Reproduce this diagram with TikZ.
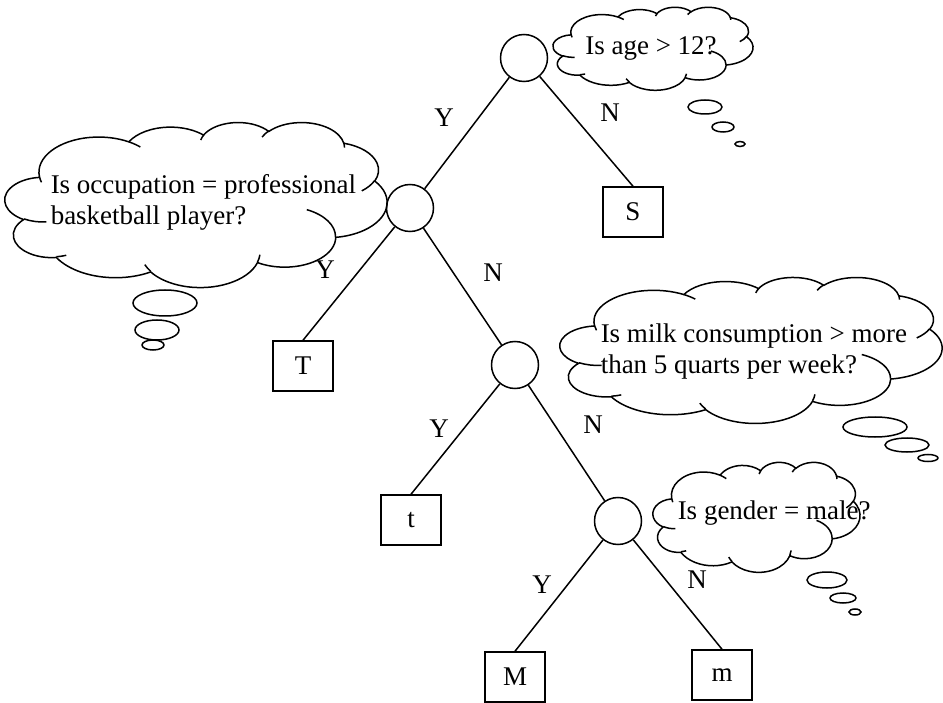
\documentclass[tikz,border=0pt]{standalone}
\usepackage{fontspec}
\setmainfont{Liberation Serif}
\newcommand\ooarc[4]{arc[start angle={atan2(#1*sin(#3),#2*cos(#3))},delta angle={mod(atan2(#1*sin(#3+#4),#2*cos(#3+#4))-atan2(#1*sin(#3),#2*cos(#3))+720,360)},x radius=#1,y radius=#2]}
\newcommand\oocloud[4]{%
  \pgfmathsetmacro\oosx{#3/4320}%
  \pgfmathsetmacro\oosy{#4/4320}%
  \begin{scope}[shift={(#1,#2)},x=\oosx pt,y=-\oosy pt]
    \draw[fill=white] (390.0,1437.0)
      \ooarc{675.3}{919.0}{-190.4875}{123.7805}
      \ooarc{533.3}{726.7}{-144.1024}{89.9452}
      \ooarc{436.5}{594.5}{-145.8079}{99.7230}
      \ooarc{485.7}{659.5}{-130.9861}{117.2417}
      \ooarc{533.3}{727.3}{-78.7089}{109.0269}
      \ooarc{677.5}{922.0}{-46.2673}{130.2690}
      \ooarc{578.5}{786.7}{0.6250}{114.0333}
      \ooarc{675.2}{921.5}{22.4516}{115.1726}
      \ooarc{772.0}{1054.3}{66.2426}{75.7110}
      \ooarc{436.0}{591.8}{-274.9421}{146.7356}
      \ooarc{434.5}{594.5}{-246.8285}{152.5189} -- cycle;
    \draw (469.3,2617.7) \ooarc{434.5}{594.5}{86.742}{26.4295}
      (692.8,3489.9) \ooarc{436.0}{591.8}{73.6105}{11.4475}
      (1647.8,3909.0) \ooarc{675.2}{921.5}{137.6242}{14.0811}
      (2882.7,3475.1) \ooarc{675.2}{921.5}{6.4533}{15.9984}
      (3412.9,2295.4) \ooarc{578.5}{786.7}{-70.2924}{70.9174}
      (4179.8,1535.4) \ooarc{533.3}{727.3}{30.3180}{27.7515}
      (3832.4,542.6) \ooarc{485.7}{659.5}{-13.7443}{14.8589}
      (2907.8,395.2) \ooarc{485.7}{659.5}{-149.1815}{18.1954}
      (2214.1,472.0) \ooarc{436.5}{594.5}{-163.4943}{17.6864}
      (1400.0,519.2) \ooarc{675.3}{919.0}{-66.7070}{12.3194}
      (412.7,1578.9) \ooarc{675.3}{919.0}{157.6544}{11.8582};
  \end{scope}}
\begin{document}
\begin{tikzpicture}[x=1pt,y=-1pt,line width=1.5pt,
  every node/.style={font=\fontsize{27}{31}\selectfont},
  dec/.style={circle,draw,minimum size=47pt,inner sep=0pt},
  leaf/.style={rectangle,draw,minimum width=60pt,minimum height=50pt,inner sep=0pt},
  qtext/.style={inner sep=0pt,align=left},
  lbl/.style={inner sep=0pt},
  bub/.style={draw,fill=white}]
\useasboundingbox (0,0) rectangle (943,703);

% thought clouds
\oocloud{553}{7}{200}{83}
\oocloud{5}{122}{382}{165}
\oocloud{560}{277}{382}{146}
\oocloud{653}{462}{207}{110}

\draw[bub] (705,107) ellipse [x radius=17pt,y radius=7pt];
\draw[bub] (723,127) ellipse [x radius=11pt,y radius=5pt];
\draw[bub] (740,144) ellipse [x radius=5pt,y radius=2.5pt];

\draw[bub] (165,303) ellipse [x radius=32pt,y radius=13pt];
\draw[bub] (157,330) ellipse [x radius=22pt,y radius=10pt];
\draw[bub] (153,345) ellipse [x radius=11pt,y radius=5pt];

\draw[bub] (875,427) ellipse [x radius=32pt,y radius=10pt];
\draw[bub] (907,445) ellipse [x radius=22pt,y radius=7pt];
\draw[bub] (928,458) ellipse [x radius=10pt,y radius=3.5pt];

\draw[bub] (827,580) ellipse [x radius=20pt,y radius=8pt];
\draw[bub] (843,598) ellipse [x radius=13pt,y radius=5pt];
\draw[bub] (855,612) ellipse [x radius=6pt,y radius=3pt];

% question texts
\node[qtext] (q1) at (651,48) {Is age > 12?};
\node[qtext,anchor=west] (q2) at (50,202) {Is occupation = professional\\basketball player?};
\node[qtext,anchor=west] (q3) at (600,352) {Is milk consumption > more\\than 5 quarts per week?};
\node[qtext,anchor=west] (q4) at (677,513) {Is gender = male?};

% tree
\node[dec] (r) at (524,58) {};
\node[dec] (c2) at (410,208) {};
\node[dec] (c3) at (515,365) {};
\node[dec] (c4) at (618,521) {};

\node[leaf] (S) at (633,212) {S};
\node[leaf] (T) at (303,366) {T};
\node[leaf] (t) at (411,520) {t};
\node[leaf] (M) at (515,677) {M};
\node[leaf] (m) at (722,675) {m};

\draw (r) -- (c2);
\draw (r) -- (S.north);
\draw (c2) -- (T.north);
\draw (c2) -- (c3);
\draw (c3) -- (t.north);
\draw (c3) -- (c4);
\draw (c4) -- (M.north);
\draw (c4) -- (m.north);

% edge labels
\node[lbl] (y1) at (444,118) {Y};
\node[lbl] (n1) at (610,113) {N};
\node[lbl] (y2) at (325,270) {Y};
\node[lbl] (n2) at (493,273) {N};
\node[lbl] (y3) at (439,429) {Y};
\node[lbl] (n3) at (593,425) {N};
\node[lbl] (y4) at (542,585) {Y};
\node[lbl] (n4) at (697,580) {N};
\end{tikzpicture}
\end{document}
